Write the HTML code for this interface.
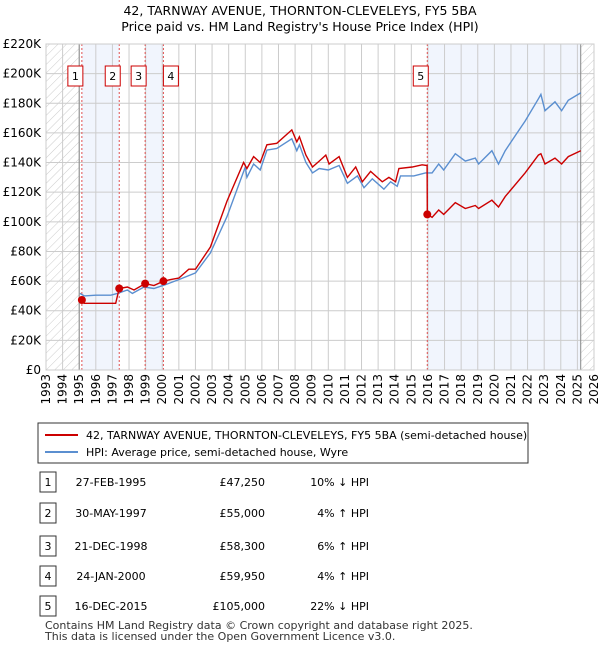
<!DOCTYPE html>
<html><head><meta charset="utf-8"><style>
body{margin:0;background:#fff;font-family:"Liberation Sans","DejaVu Sans",sans-serif;}
svg text{font-family:"DejaVu Sans","Liberation Sans",sans-serif;}
</style></head><body>
<svg id="c" width="600" height="650" xmlns="http://www.w3.org/2000/svg">
<text x="300" y="15" text-anchor="middle" font-size="12.5">42, TARNWAY AVENUE, THORNTON-CLEVELEYS, FY5 5BA</text>
<text x="300" y="31" text-anchor="middle" font-size="12.5">Price paid vs. HM Land Registry's House Price Index (HPI)</text>
<defs><pattern id="h" width="6" height="6" patternUnits="userSpaceOnUse" patternTransform="rotate(45)"><line x1="0" y1="0" x2="0" y2="6" stroke="#ccc" stroke-width="1"/></pattern></defs>
<g id="plot"></g>
<g id="legend">
<rect x="38" y="423" width="490" height="40" fill="#fff" stroke="#333"/>
<line x1="45" y1="435" x2="78" y2="435" stroke="#cc0000" stroke-width="2"/>
<text x="86" y="439" font-size="11">42, TARNWAY AVENUE, THORNTON-CLEVELEYS, FY5 5BA (semi-detached house)</text>
<line x1="45" y1="452" x2="78" y2="452" stroke="#5b8fd0" stroke-width="2"/>
<text x="86" y="456" font-size="11">HPI: Average price, semi-detached house, Wyre</text>
</g>
<g id="table" font-size="11"></g>
<text x="45" y="629" font-size="11" fill="#333">Contains HM Land Registry data © Crown copyright and database right 2025.</text>
<text x="45" y="640" font-size="11" fill="#333">This data is licensed under the Open Government Licence v3.0.</text>
</svg>
<script>
const yTicks=[0,20,40,60,80,100,120,140,160,180,200,220];
const yTickLabels=["£0","£20K","£40K","£60K","£80K","£100K","£120K","£140K","£160K","£180K","£200K","£220K"];
const xYears=[1993,1994,1995,1996,1997,1998,1999,2000,2001,2002,2003,2004,2005,2006,2007,2008,2009,2010,2011,2012,2013,2014,2015,2016,2017,2018,2019,2020,2021,2022,2023,2024,2025,2026];
const hpiT=[1995.04,1995.3,1996.0,1996.9,1997.3,1997.9,1998.2,1998.9,1999.5,2000.2,2001.0,2002.0,2002.9,2003.9,2005.0,2005.1,2005.5,2005.9,2006.3,2006.9,2007.8,2008.1,2008.26,2008.65,2009.05,2009.45,2010.0,2010.65,2011.15,2011.75,2012.15,2012.65,2013.35,2013.75,2014.15,2014.35,2015.15,2015.85,2016.25,2016.65,2016.95,2017.65,2018.25,2018.85,2019.05,2019.85,2020.25,2020.65,2021.25,2021.85,2022.65,2022.8,2023.05,2023.65,2024.05,2024.45,2025.2];
const hpiV=[51.7,50,50.5,50.5,51.7,54,51.7,56,55,57.6,61,65.5,79,103.5,137,130,139,135,148.4,149.5,156,148,152,140,133,136,135,138,126,131,123,129,122,127,124,131,131,133,133,139,135,146,141,143,139,148,139,148,158,168,183,186,175,181,175,182,187];
const redT=[1995.16,1995.3,1997.2,1997.41,1997.9,1998.3,1998.97,1999.5,2000.07,2000.5,2001.0,2001.6,2002.0,2002.9,2003.9,2004.9,2005.1,2005.5,2005.9,2006.3,2006.9,2007.8,2008.1,2008.26,2008.65,2009.05,2009.45,2009.85,2010.05,2010.65,2011.15,2011.65,2012.05,2012.55,2013.25,2013.65,2014.05,2014.25,2015.05,2015.65,2015.95,2015.96,2016.25,2016.65,2016.95,2017.65,2018.25,2018.85,2019.05,2019.85,2020.25,2020.65,2021.85,2022.65,2022.8,2023.05,2023.65,2024.05,2024.45,2025.2];
const redV=[47.25,45,45,55,56,54,58.3,57,59.95,61,62,68,68,83,114,140,136,144,140,152,153,162,154,157.4,145,137,141,145,139,144,130,137,127,134,127,130,127,136,137,138.5,138,105,103,108,105,113,109,111,109,114.6,110,117,133,145,146,139,143,139,144,148];
const saleT=[1995.16,1997.41,1998.97,2000.07,2015.96];
const saleV=[47.25,55,58.3,59.95,105];
const saleLabels=["1","2","3","4","5"];
const saleDates=["27-FEB-1995","30-MAY-1997","21-DEC-1998","24-JAN-2000","16-DEC-2015"];
const salePrices=["£47,250","£55,000","£58,300","£59,950","£105,000"];
const salePct=["10% ↓ HPI","4% ↑ HPI","6% ↑ HPI","4% ↑ HPI","22% ↓ HPI"];
const shadeRanges=[[1995.16,1997.41],[1998.97,2000.07],[2015.96,2025.2]];

const NS="http://www.w3.org/2000/svg";
const X0=46,X1=594,Y0=370,Y1=44,T0=1993,T1=2026,VMAX=220;
const sx=t=>X0+(t-T0)/(T1-T0)*(X1-X0);
const sy=v=>Y0-v/VMAX*(Y0-Y1);
const plot=document.getElementById('plot');
function mk(tag,attrs,parent){const e=document.createElementNS(NS,tag);for(const k in attrs)e.setAttribute(k,attrs[k]);(parent||plot).appendChild(e);return e;}
let e;
e=mk('rect',{x:X0,y:Y1,width:X1-X0,height:Y0-Y1,fill:'#fff'});


shadeRanges.forEach(r=>{e=mk('rect',{x:sx(r[0]),y:Y1,width:sx(r[1])-sx(r[0]),height:Y0-Y1,fill:'#f1f5fd'});

});
e=mk('rect',{x:X0,y:Y1,width:sx(1995)-X0,height:Y0-Y1,fill:'url(#h)'});


e=mk('rect',{x:sx(2025.2),y:Y1,width:X1-sx(2025.2),height:Y0-Y1,fill:'url(#h)'});


xYears.forEach(y=>{e=mk('line',{x1:sx(y),x2:sx(y),y1:Y1,y2:Y0,stroke:'#ccc','stroke-width':1});


const tx=sx(y)+4, ty=Y0+4;
e=mk('text',{x:tx,y:ty,'font-size':12,'text-anchor':'end',transform:'rotate(-90 '+tx+' '+ty+')'});
e.textContent=y;

});
yTicks.forEach((v,i)=>{e=mk('line',{x1:X0,x2:X1,y1:sy(v),y2:sy(v),stroke:'#ccc','stroke-width':1});


e=mk('text',{x:X0-5,y:sy(v)+4,'font-size':12,'text-anchor':'end'});
e.textContent=yTickLabels[i];

});
[1995,2025.2].forEach(t=>{e=mk('line',{x1:sx(t),x2:sx(t),y1:Y1,y2:Y0,stroke:'#888','stroke-width':1});

});
saleT.forEach((t,i)=>{e=mk('line',{x1:sx(t),x2:sx(t),y1:Y1,y2:Y0,stroke:'#e05050','stroke-width':1,'stroke-dasharray':'2,2'});

});
const pts=(T,V)=>T.map((t,i)=>sx(t).toFixed(1)+','+sy(V[i]).toFixed(1)).join(' ');
e=mk('polyline',{points:pts(hpiT,hpiV),fill:'none',stroke:'#5b8fd0','stroke-width':1.4});


e=mk('polyline',{points:pts(redT,redV),fill:'none',stroke:'#cc0000','stroke-width':1.4});


saleT.forEach((t,i)=>{e=mk('circle',{cx:sx(t),cy:sy(saleV[i]),r:4,fill:'#cc0000'});


const bx=sx(t)+(i==3?7:-7)-7;
e=mk('rect',{x:bx,y:66,width:15,height:20,fill:'#fff',stroke:'#cc0000'});


e=mk('text',{x:bx+7.5,y:80,'font-size':11,'text-anchor':'middle'});
e.textContent=saleLabels[i];

});
e=mk('rect',{x:X0,y:Y1,width:X1-X0,height:Y0-Y1,fill:'none',stroke:'#ccc'});


const tb=document.getElementById('table');
const rowY=[482,513,546,576,606];
saleLabels.forEach((l,i)=>{const y=rowY[i];
e=mk('rect',{x:40,y:y-10,width:16,height:20,fill:'#fff',stroke:'#333'},tb);


e=mk('text',{x:48,y:y+4,'text-anchor':'middle'},tb);e.textContent=l;


e=mk('text',{x:111,y:y+4,'text-anchor':'middle'},tb);e.textContent=saleDates[i];


e=mk('text',{x:265,y:y+4,'text-anchor':'end'},tb);e.textContent=salePrices[i];


e=mk('text',{x:369,y:y+4,'text-anchor':'end'},tb);e.textContent=salePct[i];

});
</script>
</body></html>
